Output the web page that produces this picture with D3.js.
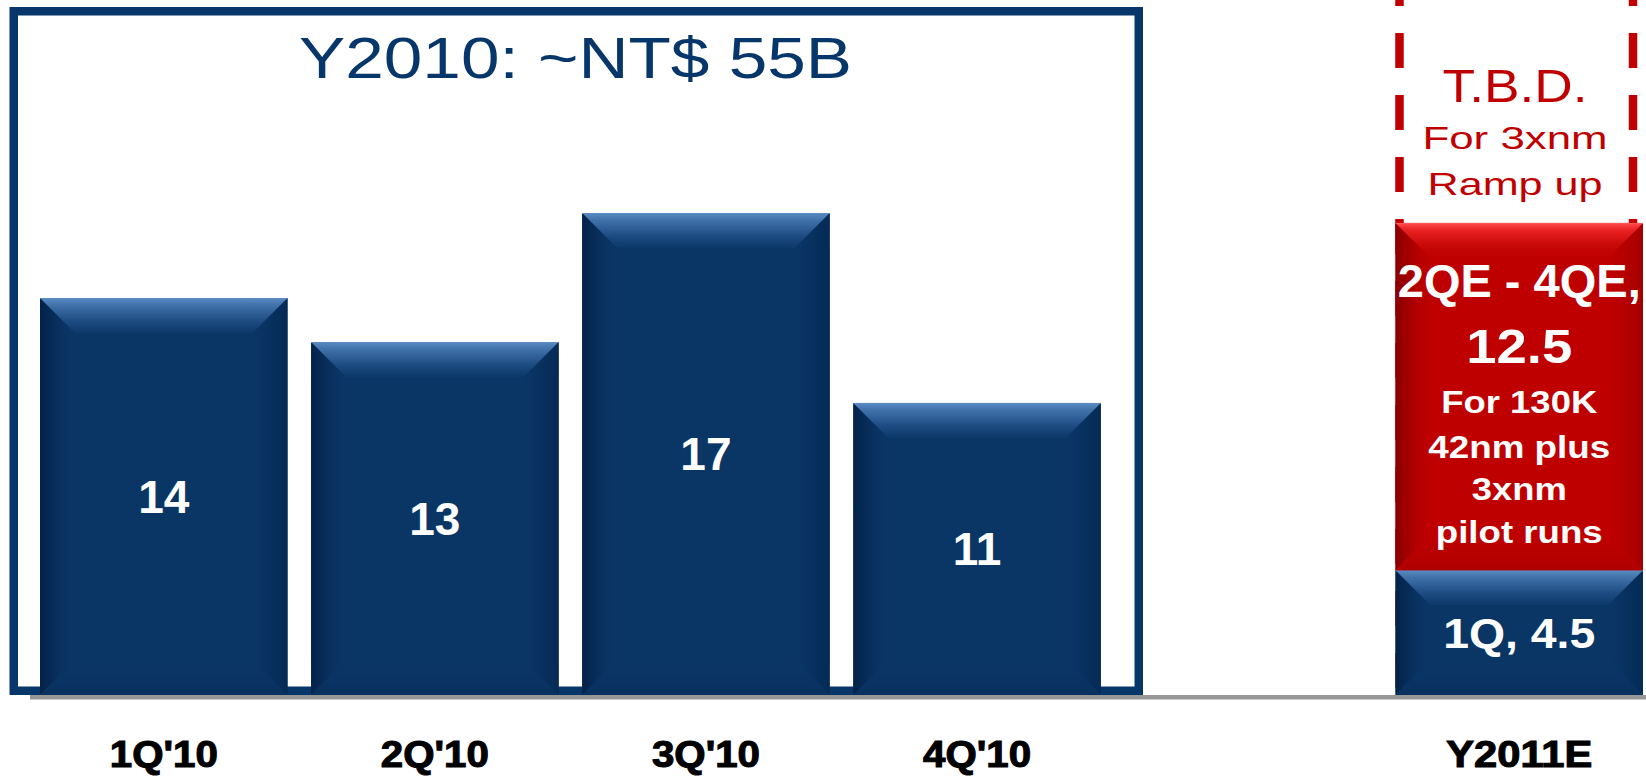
<!DOCTYPE html>
<html>
<head>
<meta charset="utf-8">
<script src="https://cdn.jsdelivr.net/npm/d3@7"></script>
<style>
  html, body { margin: 0; padding: 0; background: #ffffff; }
  svg { display: block; }
</style>
</head>
<body>
<div id="chart"></div>
<script>
// ---------------- data ----------------
const categories = ["1Q'10", "2Q'10", "3Q'10", "4Q'10", "Y2011E"];
const slots = ["1Q'10", "2Q'10", "3Q'10", "4Q'10", "_gap", "Y2011E"];
const quarterValues = [14, 12.45, 17, 10.3];          // bar heights (NT$ B)
const quarterLabels = ["14", "13", "17", "11"];        // printed labels
const y2011Values = [4.4, 12.25];                      // stacked: 1Q actual, 2Q-4Q estimate
const y2011Colors = ["blue", "red"];
const y2011BlueLines = ["1Q, 4.5"];
const y2011RedLines = ["2QE - 4QE,", "12.5", "For 130K", "42nm plus", "3xnm", "pilot runs"];
const tbdLines = ["T.B.D.", "For 3xnm", "Ramp up"];
const titleText = "Y2010: ~NT$ 55B";

// ---------------- setup ----------------
const W = 1646, H = 778;
const FONT = "'Liberation Sans', Arial, Helvetica, sans-serif";
const NAVY = "#07376a";
const RED = "#c00000";
const baseY = 695;

const svg = d3.select("#chart").append("svg").attr("width", W).attr("height", H);
const defs = svg.append("defs");

function grad(id, x2, y2, stops) {
  const g = defs.append("linearGradient").attr("id", id)
    .attr("x1", 0).attr("y1", 0).attr("x2", x2).attr("y2", y2);
  stops.forEach(s => g.append("stop").attr("offset", s[0]).attr("stop-color", s[1]));
}
const palettes = {
  blue: {face: "#0a3666", edge: "#5d8dc3",
    top: [[0, "#5a8cc4"], [0.2, "#4172aa"], [0.65, "#1d4c82"], [1, "#0c386a"]],
    left: [[0, "#042249"], [0.6, "#093261"], [1, "#0a3666"]],
    right: [[0, "#0a3666"], [0.5, "#08315f"], [1, "#052a55"]],
    bottom: [[0, "#0a3666"], [1, "#083160"]]},
  red: {face: "#bf0000", edge: "#ff5a5a",
    top: [[0, "#ff4d4d"], [0.2, "#ea2222"], [0.65, "#c80707"], [1, "#bf0000"]],
    left: [[0, "#8a0000"], [0.6, "#b30000"], [1, "#bf0000"]],
    right: [[0, "#bf0000"], [0.5, "#b50000"], [1, "#a40000"]],
    bottom: [[0, "#bf0000"], [1, "#b00000"]]}
};
Object.entries(palettes).forEach(([k, p]) => {
  grad(k + "Top", 0, 1, p.top);
  grad(k + "Left", 1, 0, p.left);
  grad(k + "Right", 1, 0, p.right);
  grad(k + "Bottom", 0, 1, p.bottom);
});

// scales
const x = d3.scaleBand().domain(slots).range([40, 1643]).paddingInner(0.087).paddingOuter(0);
const y = d3.scaleLinear().domain([0, 17]).range([baseY, 213]);
const bw = x.bandwidth();

// grey base line
svg.append("line").attr("x1", 30).attr("x2", W).attr("y1", baseY + 2.3).attr("y2", baseY + 2.3)
  .attr("stroke", "#979797").attr("stroke-width", 4.6);

// Y2010 frame
svg.append("rect").attr("x", 13.75).attr("y", 11.25).attr("width", 1125).attr("height", baseY - 4.25 - 11.25)
  .attr("fill", "none").attr("stroke", NAVY).attr("stroke-width", 8.5);

// title
function addText(g, str, cx, baseline, size, weight, fill, width) {
  const t = g.append("text").attr("x", cx).attr("y", baseline)
    .attr("text-anchor", "middle").attr("font-family", FONT)
    .attr("font-size", size).attr("font-weight", weight).attr("fill", fill).text(str);
  if (width) t.attr("textLength", width).attr("lengthAdjust", "spacingAndGlyphs");
  return t;
}
addText(svg, titleText, 575.5, 78, 57, "normal", NAVY, 553);

// dashed TBD outline for Y2011E
const xe0 = x("Y2011E"), xe1 = xe0 + bw;
[xe0 + 4, xe1 - 10].forEach(xx => {
  svg.append("line").attr("x1", xx).attr("x2", xx).attr("y1", 0).attr("y2", baseY)
    .attr("stroke", RED).attr("stroke-width", 8.5)
    .attr("stroke-dasharray", "35,27").attr("stroke-dashoffset", 29);
});

// bevelled bar drawing
function bevelBar(g, x0, x1, y0, y1, pal) {
  const b = Math.min(35, (y1 - y0) / 2, (x1 - x0) / 2);
  const p = palettes[pal];
  g.append("rect").attr("x", x0).attr("y", y0).attr("width", x1 - x0).attr("height", y1 - y0).attr("fill", p.face);
  const poly = (pts, fill) => g.append("path").attr("d", "M" + pts.map(q => q.join(",")).join("L") + "Z").attr("fill", fill);
  poly([[x0, y0], [x0 + b, y0 + b], [x0 + b, y1 - b], [x0, y1]], `url(#${pal}Left)`);
  poly([[x1, y0], [x1, y1], [x1 - b, y1 - b], [x1 - b, y0 + b]], `url(#${pal}Right)`);
  poly([[x0, y1], [x0 + b, y1 - b], [x1 - b, y1 - b], [x1, y1]], `url(#${pal}Bottom)`);
  poly([[x0, y0], [x1, y0], [x1 - b, y0 + b], [x0 + b, y0 + b]], `url(#${pal}Top)`);
  g.append("line").attr("x1", x0).attr("x2", x1).attr("y1", y0 + 0.5).attr("y2", y0 + 0.5)
    .attr("stroke", p.edge).attr("stroke-width", 1);
}

// quarterly bars
const barsG = svg.append("g");
quarterValues.forEach((v, i) => {
  const c = categories[i];
  const x0 = x(c);
  bevelBar(barsG, x0, x0 + bw, y(v), y(0), "blue");
  const mid = (y(v) + y(0)) / 2;
  addText(barsG, quarterLabels[i], x0 + bw / 2, mid + 16, 46, "bold", "#ffffff");
});

// Y2011E stacked bar
const stackG = svg.append("g");
let acc = 0;
y2011Values.forEach((v, i) => {
  const top = y(acc + v), bot = y(acc);
  bevelBar(stackG, xe0, xe1, top, bot, y2011Colors[i]);
  acc += v;
});
const cxE = xe0 + bw / 2;
// blue segment label
addText(stackG, y2011BlueLines[0], cxE, 648, 43, "bold", "#ffffff", 152);
// red segment labels
const redSpecs = [
  [297, 46, 243], [363, 49, 106], [413, 32, 156], [458, 32, 182], [500, 32, 95], [543, 32, 167]
];
y2011RedLines.forEach((s, i) => {
  const [bl, fs, w] = redSpecs[i];
  addText(stackG, s, cxE, bl, fs, "bold", "#ffffff", w);
});
// TBD labels
const tbdSpecs = [[102, 47, 145], [149, 32, 185], [195, 32, 175]];
tbdLines.forEach((s, i) => {
  const [bl, fs, w] = tbdSpecs[i];
  addText(svg, s, 1515, bl, fs, "normal", RED, w);
});

// category axis
const axisG = svg.append("g").attr("transform", `translate(0,${baseY})`)
  .call(d3.axisBottom(x).tickValues(categories).tickSize(0).tickPadding(0));
axisG.select(".domain").remove();
axisG.attr("font-family", FONT).attr("font-size", 37).attr("font-weight", "bold").attr("color", "#000");
axisG.selectAll("text").attr("y", 72).attr("dy", 0)
  .attr("stroke", "#000").attr("stroke-width", 1.1)
  .attr("textLength", d => d === "Y2011E" ? 146 : 108)
  .attr("lengthAdjust", "spacingAndGlyphs");
</script>
</body>
</html>
